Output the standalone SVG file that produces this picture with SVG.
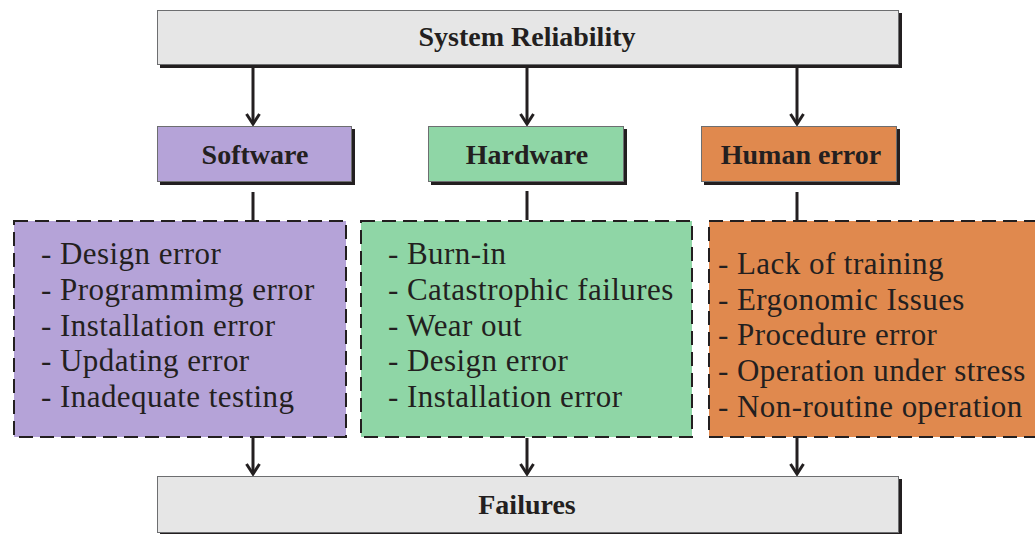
<svg xmlns="http://www.w3.org/2000/svg" width="1035" height="534" viewBox="0 0 1035 534">
  <style>
    .shadow { fill: #231f20; }
    .box { stroke: #6d6e70; stroke-width: 1; }
    .grey { fill: #e6e6e6; }
    .purple { fill: #b5a3d8; }
    .green { fill: #8fd6a6; }
    .orange { fill: #e0894e; }
    .dash { stroke: #231f20; stroke-width: 2; stroke-dasharray: 14 7; }
    .title { font-family: "Liberation Serif", "Times New Roman", serif; font-weight: bold; font-size: 28px; fill: #231f20; text-anchor: middle; }
    .item { font-family: "Liberation Serif", "Times New Roman", serif; font-size: 31px; letter-spacing: 0.45px; fill: #231f20; }
    .conn { stroke: #231f20; stroke-width: 3; fill: none; }
  </style>
  <defs>
    <marker id="arrow" markerWidth="14" markerHeight="16" refX="12" refY="8" orient="auto" markerUnits="userSpaceOnUse" viewBox="0 0 14 16">
      <path d="M2 1.5 L12 8 L2 14.5" fill="none" stroke="#231f20" stroke-width="3"/>
    </marker>
  </defs>

  <!-- top: system reliability -->
  <g id="system-reliability">
    <rect class="shadow" x="160" y="13" width="742" height="55"/>
    <rect class="box grey" x="157.5" y="10.5" width="741" height="54"/>
    <text class="title" x="527" y="46">System Reliability</text>
  </g>

  <!-- category headers -->
  <g id="software">
    <rect class="shadow" x="160" y="129" width="195" height="56"/>
    <rect class="box purple" x="157.5" y="126.5" width="194" height="55"/>
    <text class="title" x="255" y="164">Software</text>
  </g>
  <g id="hardware">
    <rect class="shadow" x="431" y="129" width="196" height="56"/>
    <rect class="box green" x="428.5" y="126.5" width="195" height="55"/>
    <text class="title" x="527" y="164">Hardware</text>
  </g>
  <g id="human-error">
    <rect class="shadow" x="704" y="129" width="196" height="56"/>
    <rect class="box orange" x="701.5" y="126.5" width="195" height="55"/>
    <text class="title" x="801" y="164">Human error</text>
  </g>

  <!-- cause lists -->
  <g id="software-causes">
    <rect class="purple dash" x="14" y="221" width="332" height="216"/>
    <text class="item" x="41" y="264">- Design error</text>
    <text class="item" x="41" y="300">- Programmimg error</text>
    <text class="item" x="41" y="336">- Installation error</text>
    <text class="item" x="41" y="371">- Updating error</text>
    <text class="item" x="41" y="407">- Inadequate testing</text>
  </g>
  <g id="hardware-causes">
    <rect class="green dash" x="361" y="221" width="331" height="216"/>
    <text class="item" x="388" y="264">- Burn-in</text>
    <text class="item" x="388" y="300">- Catastrophic failures</text>
    <text class="item" x="388" y="336">- Wear out</text>
    <text class="item" x="388" y="371">- Design error</text>
    <text class="item" x="388" y="407">- Installation error</text>
  </g>
  <g id="human-causes">
    <rect class="orange dash" x="709" y="221" width="340" height="216"/>
    <text class="item" x="718" y="274">- Lack of training</text>
    <text class="item" x="718" y="310">- Ergonomic Issues</text>
    <text class="item" x="718" y="345">- Procedure error</text>
    <text class="item" x="718" y="381">- Operation under stress</text>
    <text class="item" x="718" y="417">- Non-routine operation</text>
  </g>

  <!-- bottom: failures -->
  <g id="failures">
    <rect class="shadow" x="160" y="479" width="742" height="56"/>
    <rect class="box grey" x="157.5" y="476.5" width="741" height="56"/>
    <text class="title" x="527" y="514">Failures</text>
  </g>

  <!-- connectors -->
  <g id="connectors">
    <line class="conn" x1="253" y1="68" x2="253" y2="124" marker-end="url(#arrow)"/>
    <line class="conn" x1="527" y1="68" x2="527" y2="124" marker-end="url(#arrow)"/>
    <line class="conn" x1="797" y1="68" x2="797" y2="124" marker-end="url(#arrow)"/>
    <line class="conn" x1="253" y1="192" x2="253" y2="220"/>
    <line class="conn" x1="527" y1="191" x2="527" y2="220"/>
    <line class="conn" x1="797" y1="192" x2="797" y2="220"/>
    <line class="conn" x1="253" y1="438" x2="253" y2="474" marker-end="url(#arrow)"/>
    <line class="conn" x1="527" y1="438" x2="527" y2="474" marker-end="url(#arrow)"/>
    <line class="conn" x1="797" y1="438" x2="797" y2="474" marker-end="url(#arrow)"/>
  </g>
</svg>
